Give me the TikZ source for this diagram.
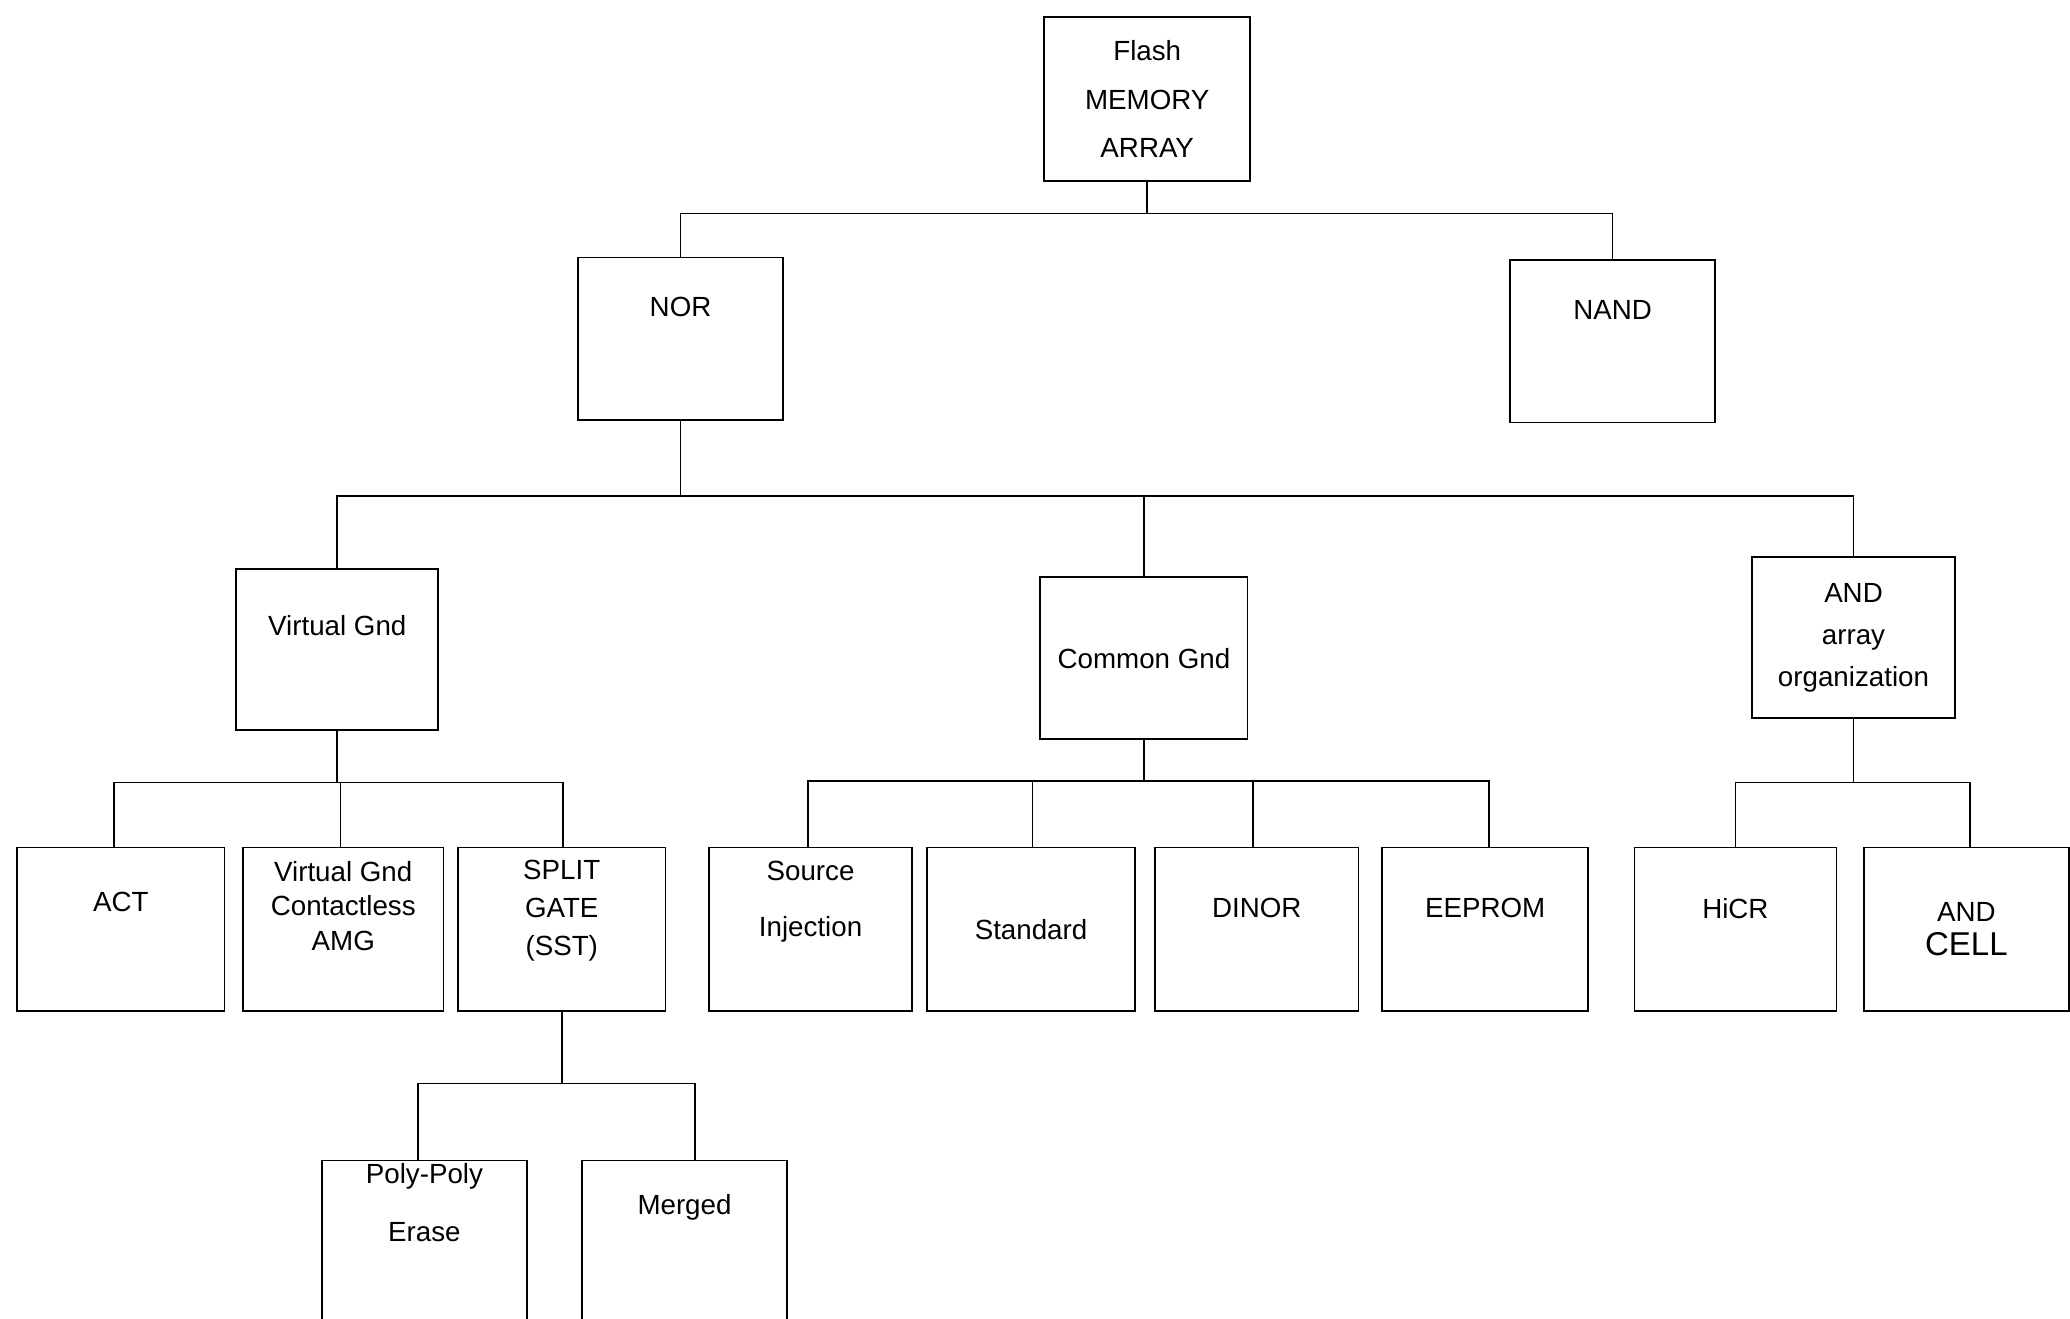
\documentclass[tikz,border=0pt]{standalone}
\usepackage{fontspec}
\setmainfont{Liberation Sans}
\begin{document}
\begin{tikzpicture}[x=1pt,y=1pt,
 box/.style={draw,line width=1.3pt,align=center,inner sep=0pt,font=\fontsize{21}{30}\selectfont},
 ln/.style={line width=1.3pt}]
\useasboundingbox (0,0) rectangle (1568,-999);
\begin{scope}
\clip (0,0) rectangle (1568,-999);
\node[box,minimum width=156,minimum height=124,font=\fontsize{21}{37}\selectfont] (f) at (869,-75) {Flash\\MEMORY\\ARRAY};
\node[box,minimum width=155,minimum height=123] (nor) at (515.5,-256.5) {NOR\\[18pt]};
\node[box,minimum width=155,minimum height=123] (nand) at (1221.5,-258.5) {NAND\\[18pt]};
\node[box,minimum width=153,minimum height=122] (vg) at (255.5,-492) {Virtual Gnd\\[6pt]};
\node[box,minimum width=157,minimum height=123] (cg) at (866.5,-498.5) {Common Gnd};
\node[box,minimum width=154,minimum height=122,font=\fontsize{21}{32}\selectfont] (and) at (1404,-483) {AND\\array\\organization};
\node[box,minimum width=157,minimum height=124] (act) at (91.5,-704) {ACT\\[12pt]};
\node[box,minimum width=152,minimum height=124,font=\fontsize{21}{26}\selectfont] (vgc) at (260,-704) {Virtual Gnd\\Contactless\\AMG\\[10pt]};
\node[box,minimum width=157,minimum height=124,font=\fontsize{21}{29}\selectfont] (sg) at (425.5,-704) {SPLIT\\GATE\\(SST)\\[4pt]};
\node[box,minimum width=154,minimum height=124,font=\fontsize{21}{42}\selectfont] (si) at (614,-704) {Source\\Injection\\[4pt]};
\node[box,minimum width=158,minimum height=124] (st) at (781,-704) {Standard};
\node[box,minimum width=154,minimum height=124] (di) at (952,-704) {DINOR\\[2pt]};
\node[box,minimum width=156,minimum height=124] (ee) at (1125,-704) {EEPROM\\[2pt]};
\node[box,minimum width=153,minimum height=124] (hi) at (1314.5,-704) {HiCR\\[2pt]};
\node[box,minimum width=155,minimum height=124] (ac) at (1489.5,-704) {AND\\[-4pt]{\fontsize{25}{30}\selectfont CELL}};
\node[box,minimum width=155,minimum height=122,font=\fontsize{21}{44}\selectfont] (pp) at (321.5,-940) {Poly-Poly\\Erase\\[14pt]};
\node[box,minimum width=155,minimum height=122] (me) at (518.5,-940) {Merged\\[26pt]};
\end{scope}
\draw[ln] (f.south) -- ++(0,-24) -| (nor.north);
\draw[ln] (f.south) -- ++(0,-24) -| (nand.north);
\foreach \c in {vg,cg,and} \draw[ln] (nor.south) -- ++(0,-57) -| (\c.north);
\foreach \c/\dx in {act/-5,vgc/-2,sg/1} \draw[ln] (vg.south) -- ++(0,-39) -| ([xshift=\dx pt]\c.north);
\foreach \c/\dx in {si/-2,st/1,di/-3,ee/3} \draw[ln] (cg.south) -- ++(0,-31) -| ([xshift=\dx pt]\c.north);
\foreach \c/\dx in {hi/0,ac/3} \draw[ln] (and.south) -- ++(0,-48) -| ([xshift=\dx pt]\c.north);
\foreach \c/\dx in {pp/-5,me/8} \draw[ln] (sg.south) -- ++(0,-54) -| ([xshift=\dx pt]\c.north);
\end{tikzpicture}
\end{document}
